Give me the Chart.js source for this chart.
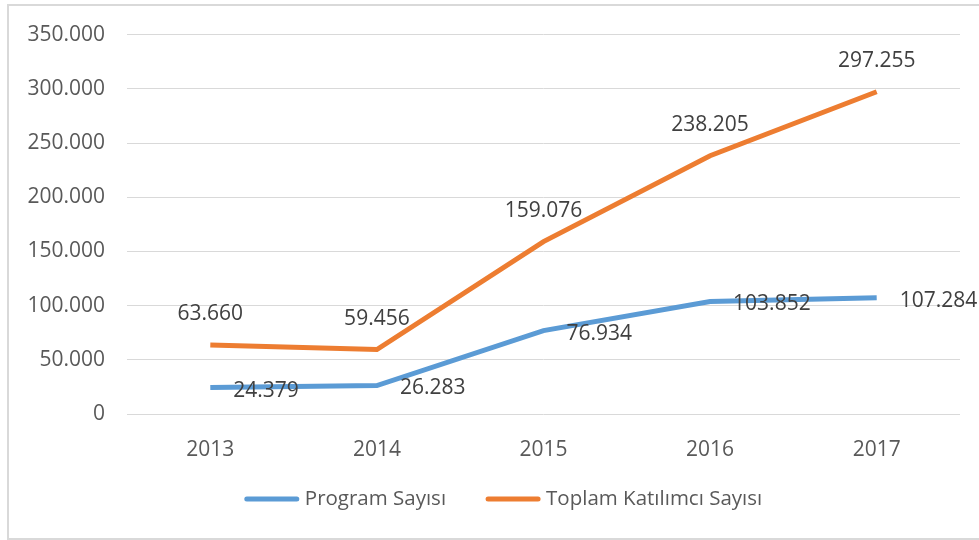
<!DOCTYPE html>
<html lang="tr">
  <head>
    <meta charset="UTF-8" />
    <title>Program ve Katılımcı Sayıları</title>
    <script src="https://cdn.jsdelivr.net/npm/chart.js"></script>
    <style>
      body { margin: 0; background: #fff; }
      #wrap { position: relative; width: 979px; height: 540px; }
      #frame {
        position: absolute; left: 7px; top: 4px; width: 990px; height: 532px;
        border: 2px solid #d9d9d9; pointer-events: none;
      }
    </style>
  </head>
  <body>
    <div id="wrap">
      <canvas id="myChart" width="979" height="540"></canvas>
      <div id="frame"></div>
    </div>

    <script>
      const years = ["2013", "2014", "2015", "2016", "2017"];
      const programSayisi = [24379, 26283, 76934, 103852, 107284];
      const katilimciSayisi = [63660, 59456, 159076, 238205, 297255];

      const fmt = (v) => v.toLocaleString("de-DE");
      const fontFam = "'Open Sans', sans-serif";

      // value labels: orange above the point, blue to the right of it
      const valueLabels = {
        id: "valueLabels",
        afterDatasetsDraw(chart) {
          const ctx = chart.ctx;
          ctx.save();
          ctx.font = "21px " + fontFam;
          ctx.fillStyle = "#404040";
          ctx.textBaseline = "middle";
          chart.data.datasets.forEach((ds, i) => {
            chart.getDatasetMeta(i).data.forEach((pt, j) => {
              const txt = fmt(ds.data[j]);
              if (ds.labelPos === "top") {
                ctx.textAlign = "center";
                ctx.fillText(txt, pt.x, pt.y - 31);
              } else {
                ctx.textAlign = "left";
                ctx.fillText(txt, pt.x + 23, pt.y + 3);
              }
            });
          });
          ctx.restore();
        },
      };

      // legend drawn by hand so the spacing can follow the original
      const bottomLegend = {
        id: "bottomLegend",
        afterDraw(chart) {
          const ctx = chart.ctx;
          ctx.save();
          ctx.font = "20.5px " + fontFam;
          ctx.textBaseline = "middle";
          const y = 499, box = 54, gap = 6, space = 40;
          const items = chart.data.datasets.map((ds) => ({
            text: ds.label, color: ds.borderColor, w: ctx.measureText(ds.label).width,
          }));
          let total = items.reduce((s, it) => s + box + gap + it.w, 0) + space * (items.length - 1);
          let x = (chart.width + 28) / 2 - total / 2;
          items.forEach((it) => {
            ctx.strokeStyle = it.color;
            ctx.lineWidth = 5;
            ctx.lineCap = "round";
            ctx.beginPath();
            ctx.moveTo(x + 2, y);
            ctx.lineTo(x + box - 2, y);
            ctx.stroke();
            ctx.fillStyle = "#595959";
            ctx.textAlign = "left";
            ctx.fillText(it.text, x + box + gap, y);
            x += box + gap + it.w + space;
          });
          ctx.restore();
        },
      };

      const ctx = document.getElementById("myChart").getContext("2d");
      const myChart = new Chart(ctx, {
        type: "line",
        data: {
          labels: years,
          datasets: [
            {
              label: "Program Sayısı",
              data: programSayisi,
              borderColor: "#5b9bd5",
              backgroundColor: "#5b9bd5",
              borderWidth: 5,
              pointRadius: 0,
              labelPos: "right",
            },
            {
              label: "Toplam Katılımcı Sayısı",
              data: katilimciSayisi,
              borderColor: "#ed7d31",
              backgroundColor: "#ed7d31",
              borderWidth: 5,
              pointRadius: 0,
              labelPos: "top",
            },
          ],
        },
        options: {
          responsive: false,
          animation: false,
          layout: { padding: { top: 34, right: 19, left: 0, bottom: 76 } },
          plugins: {
            tooltip: { enabled: false },
            legend: { display: false },
          },
          scales: {
            x: {
              offset: true,
              grid: { display: false },
              border: { display: false },
              ticks: { color: "#595959", font: { family: fontFam, size: 21 }, padding: 15 },
              afterFit(scale) { scale.height = 50; },
            },
            y: {
              min: 0,
              max: 350000,
              ticks: {
                stepSize: 50000,
                color: "#595959",
                font: { family: fontFam, size: 21 },
                padding: 22,
                callback: (v) => fmt(v),
              },
              grid: { color: "#d9d9d9", drawTicks: false },
              border: { display: false },
              afterFit(scale) { scale.width = 127; },
            },
          },
        },
        plugins: [valueLabels, bottomLegend],
      });
    </script>
  </body>
</html>
